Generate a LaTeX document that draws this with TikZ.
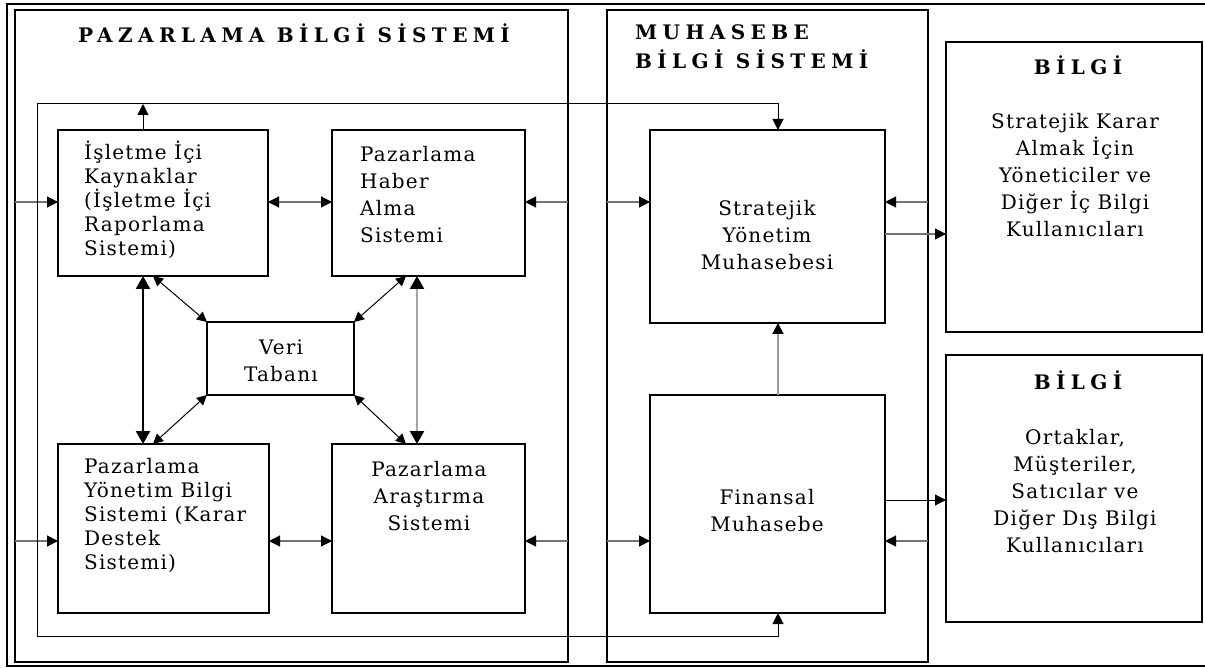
\documentclass[tikz,border=0pt]{standalone}
\usepackage{fontspec}
\setmainfont{DejaVu Serif}[LetterSpace=6]
\newfontfamily\headfont{DejaVu Serif}[LetterSpace=27]
\usetikzlibrary{arrows.meta,positioning}

\begin{document}
\begin{tikzpicture}[x=1pt,y=-1pt]

  \tikzset{frame node/.style={rectangle, draw, line width=1.4pt,
  		anchor=north west, inner sep=0pt, outer sep=0pt}, }
  \tikzset{main node/.style={frame node, line width=1.6pt}, }
  \tikzset{body/.style={font=\fontsize{20}{27}\selectfont, inner sep=0pt, align=center}, }
  \tikzset{bodyl/.style={font=\fontsize{20}{24}\selectfont, inner sep=0pt, align=left, anchor=west}, }
  \tikzset{head/.style={font=\headfont\bfseries\fontsize{20}{29}\selectfont, inner sep=0pt}, }
  \tikzset{linea/.style={-{Triangle[length=11pt,width=11pt]}, line width=1pt}, }
  \tikzset{lineg/.style={draw=black!55, line width=1.2pt, -{Triangle[length=11pt,width=11pt,color=black]}}, }
  \tikzset{lineb/.style={lineg, {Triangle[length=11pt,width=11pt,color=black]}-{Triangle[length=11pt,width=11pt,color=black]}}, }
  \tikzset{lined/.style={line width=1pt, {Triangle[length=10pt,width=10pt]}-{Triangle[length=10pt,width=10pt]}}, }
  \tikzset{linev/.style={line width=2.4pt, {Triangle[length=13pt,width=14pt,color=black]}-{Triangle[length=13pt,width=14pt,color=black]}}, }

\useasboundingbox (0,0) rectangle (1205,668);

% frames
\node[frame node, minimum width=1202, minimum height=662] (outer) at (7,4) {};
\node[frame node, minimum width=553, minimum height=652] (pbs) at (15,10) {};
\node[frame node, minimum width=321, minimum height=652] (mbs) at (607,10) {};
\node[main node, minimum width=256, minimum height=290] (bil1) at (946,42) {};
\node[main node, minimum width=256, minimum height=267] (bil2) at (946,355) {};

% boxes
\node[main node, minimum width=210, minimum height=146] (isl) at (58,130) {};
\node[main node, minimum width=193, minimum height=146] (hab) at (332,130) {};
\node[main node, minimum width=147, minimum height=73] (veri) at (207,322) {};
\node[main node, minimum width=211, minimum height=169] (yon) at (58,444) {};
\node[main node, minimum width=193, minimum height=169] (ara) at (332,444) {};
\node[main node, minimum width=235, minimum height=193] (str) at (650,130) {};
\node[main node, minimum width=235, minimum height=218] (fin) at (650,395) {};

% texts
\node[head] (pbsT) at (294,33) {PAZARLAMA BİLGİ SİSTEMİ};
\node[head, align=left, anchor=west] (mbsT) at (635,47) {MUHASEBE\\BİLGİ SİSTEMİ};
\node[head] (bil1T) at (1078,65) {BİLGİ};
\node[head] (bil2T) at (1078,380) {BİLGİ};
\node[bodyl] (islT) at (84,200) {İşletme İçi\\Kaynaklar\\(İşletme İçi\\Raporlama\\Sistemi)};
\node[bodyl, font=\fontsize{20}{27}\selectfont] (habT) at (360,195) {Pazarlama\\Haber\\Alma\\Sistemi};
\node[body] (veriT) at (281,361) {Veri\\Tabanı};
\node[bodyl] (yonT) at (84,515) {Pazarlama\\Yönetim Bilgi\\Sistemi (Karar\\Destek\\Sistemi)};
\node[body] (araT) at (429,496) {Pazarlama\\Araştırma\\Sistemi};
\node[body] (strT) at (767,235) {Stratejik\\Yönetim\\Muhasebesi};
\node[body] (finT) at (767,511) {Finansal\\Muhasebe};
\node[body] (bil1B) at (1075,175) {Stratejik Karar\\Almak İçin\\Yöneticiler ve\\Diğer İç Bilgi\\Kullanıcıları};
\node[body] (bil2B) at (1075,491) {Ortaklar,\\Müşteriler,\\Satıcılar ve\\Diğer Dış Bilgi\\Kullanıcıları};

\coordinate (row1) at (0,202);
\coordinate (row2) at (0,541);
\coordinate (out1) at (0,234);
\coordinate (out2) at (0,500);
\coordinate (looptl) at (37,104);
\coordinate (loopbl) at (37,636);
\coordinate (colm) at (778,0);
\coordinate (coli) at (143,0);
\coordinate (colh) at (417,0);
\coordinate (cold) at (153,0);
\coordinate (cole) at (406,0);

\foreach \x/\y in {pbs.west/isl.west, pbs.east/hab.east, mbs.west/str.west, mbs.east/str.east}
  \draw[lineg] (\x |- row1) -- (\y |- row1);
\foreach \x/\y in {pbs.west/yon.west, pbs.east/ara.east, mbs.west/fin.west, mbs.east/fin.east}
  \draw[lineg] (\x |- row2) -- (\y |- row2);
\draw[lineb] (isl.east |- row1) -- (hab.west |- row1);
\draw[lineb] (yon.east |- row2) -- (ara.west |- row2);
\draw[lineg] (str.east |- out1) -- (bil1.west |- out1);
\draw[linea] (fin.east |- out2) -- (bil2.west |- out2);

% loop
\draw[linea] (looptl) -- (colm |- looptl) -- (colm |- str.north);
\draw[linea] (looptl) -- (loopbl) -- (colm |- loopbl) -- (colm |- fin.south);
\draw[linea] (coli |- isl.north) -- (coli |- looptl);
\draw[lineg, draw=black!40, line width=2pt] (colm |- fin.north) -- (colm |- str.south);

% data base
\draw[linev] (coli |- isl.south) -- (coli |- yon.north);
\draw[linev, draw=black!35] (colh |- hab.south) -- (colh |- ara.north);
\draw[lined] (cold |- isl.south) -- (veri.north west);
\draw[lined] (cole |- hab.south) -- (veri.north east);
\draw[lined] (veri.south west) -- (cold |- yon.north);
\draw[lined] (veri.south east) -- (cole |- ara.north);
%%
\end{tikzpicture}
\end{document}
